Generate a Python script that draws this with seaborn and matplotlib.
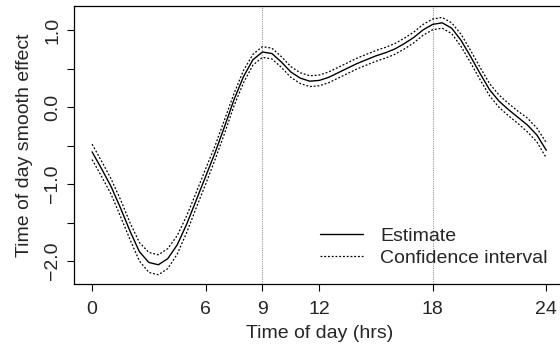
import numpy as np
import pandas as pd
import matplotlib
matplotlib.use("Agg")
import matplotlib.pyplot as plt
import seaborn as sns

# hour of day (every half hour) and the estimated smooth effect
hours = [0.0, 0.5, 1.0, 1.5, 2.0, 2.5, 3.0, 3.5, 4.0, 4.5, 5.0, 5.5, 6.0, 6.5,
         7.0, 7.5, 8.0, 8.5, 9.0, 9.5, 10.0, 10.5, 11.0, 11.5, 12.0, 12.5,
         13.0, 13.5, 14.0, 14.5, 15.0, 15.5, 16.0, 16.5, 17.0, 17.5, 18.0,
         18.5, 19.0, 19.5, 20.0, 20.5, 21.0, 21.5, 22.0, 22.5, 23.0, 23.5, 24.0]
estimate = [-0.58, -0.80, -1.03, -1.31, -1.61, -1.88, -2.02, -2.05, -1.97,
            -1.79, -1.52, -1.21, -0.90, -0.59, -0.25, 0.10, 0.40, 0.62, 0.72,
            0.70, 0.59, 0.46, 0.38, 0.34, 0.35, 0.39, 0.45, 0.51, 0.57, 0.62,
            0.67, 0.71, 0.76, 0.83, 0.91, 1.01, 1.08, 1.10, 1.03, 0.87, 0.66,
            0.44, 0.23, 0.08, -0.03, -0.13, -0.23, -0.36, -0.56]
# half width of the confidence band
half_width = [0.10, 0.10, 0.10, 0.11, 0.11, 0.12, 0.13, 0.13, 0.13, 0.12,
              0.11, 0.10, 0.10, 0.09, 0.09, 0.08, 0.08, 0.07, 0.07, 0.07,
              0.07, 0.07, 0.07, 0.07, 0.07, 0.07, 0.07, 0.07, 0.07, 0.07,
              0.07, 0.07, 0.07, 0.07, 0.07, 0.07, 0.07, 0.07, 0.07, 0.08,
              0.08, 0.08, 0.08, 0.08, 0.08, 0.08, 0.09, 0.09, 0.10]
ref_hours = [9, 18]
x_ticks = [0, 6, 9, 12, 18, 24]
y_ticks = [-2.0, -1.5, -1.0, -0.5, 0.0, 0.5, 1.0]
y_labels = ["\u22122.0", "", "\u22121.0", "", "0.0", "", "1.0"]

df = pd.DataFrame({"hour": hours, "est": estimate, "hw": half_width})
df["upper"] = df["est"] + df["hw"]
df["lower"] = df["est"] - df["hw"]

sns.set_theme(style="white")
plt.rcParams["font.family"] = ["Liberation Sans", "DejaVu Sans"]

fig = plt.figure(figsize=(5.6, 3.48), dpi=100)
ax = fig.add_axes([0.132, 0.184, 0.876, 0.799])

for h in ref_hours:
    ax.axvline(h, color="#999999", lw=0.8, ls=(0, (1, 1)), zorder=1)

sns.lineplot(data=df, x="hour", y="est", ax=ax, color="black", lw=1.0,
             label="Estimate", zorder=3)
sns.lineplot(data=df, x="hour", y="upper", ax=ax, color="black", lw=0.9,
             ls=(0, (1.5, 1.5)), label="Confidence interval", zorder=3)
sns.lineplot(data=df, x="hour", y="lower", ax=ax, color="black", lw=0.9,
             ls=(0, (1.5, 1.5)), zorder=3)

ax.set_xlim(-0.96, 24.96)
ax.set_ylim(-2.30, 1.32)
ax.set_xticks(x_ticks)
ax.set_xticklabels([str(t) for t in x_ticks])
ax.set_yticks(y_ticks)
ax.set_yticklabels(y_labels, rotation=90, va="center")
ax.tick_params(axis="both", direction="out", length=5, width=0.8,
               color="black", labelsize=14,
               bottom=True, left=True, top=False, right=False)
ax.tick_params(axis="x", pad=7)
ax.tick_params(axis="y", pad=4)
for s in ax.spines.values():
    s.set_color("black")
    s.set_linewidth(0.9)

ax.set_xlabel("Time of day (hrs)", fontsize=14, labelpad=5)
ax.set_ylabel("Time of day smooth effect", fontsize=14, labelpad=8)

leg = ax.legend(loc="lower right", bbox_to_anchor=(0.99, 0.02), frameon=False,
                fontsize=14, handlelength=2.2, handletextpad=0.9,
                labelspacing=0.2, borderaxespad=0.2)

fig.savefig("out.png", dpi=100)
